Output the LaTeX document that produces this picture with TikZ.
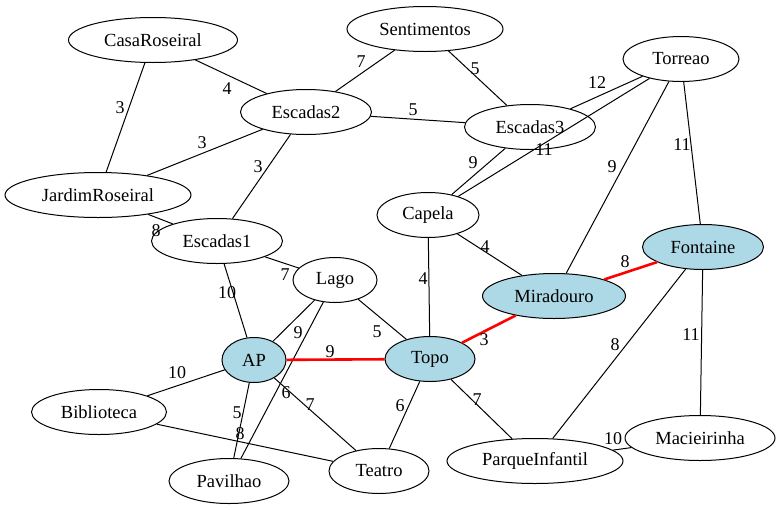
\documentclass[tikz,border=0pt]{standalone}
\usepackage{fontspec}
\setmainfont{Liberation Serif}
\newfontfamily\graphfont{Liberation Serif}
\usepackage{tikz}
\usetikzlibrary{shapes.geometric}

\definecolor{lightblue}{HTML}{ADD8E6}

\tikzset{
    place/.style={ellipse, draw, line width=1pt, fill=white, inner sep=0pt,
        minimum height=45pt, font=\graphfont\fontsize{18.5}{20}\selectfont},
    visited/.style={place, fill=lightblue},
    weight/.style={inner sep=0pt, text=black, font=\graphfont\fontsize{18}{20}\selectfont},
    link/.style={line width=1pt},
    route/.style={line width=2.6pt, red}
}

\begin{document}
\begin{tikzpicture}[x=1pt, y=-1pt]

    \useasboundingbox (0,0) rectangle (781,509);

    % locais
    \node[place, minimum width=169pt] (casa) at (153,40) {CasaRoseiral};
    \node[place, minimum width=156pt] (sent) at (425,29) {Sentimentos};
    \node[place, minimum width=116pt] (torreao) at (681,59) {Torreao};
    \node[place, minimum width=131pt] (esc2) at (306,112) {Escadas2};
    \node[place, minimum width=131pt] (esc3) at (530,127) {Escadas3};
    \node[place, minimum width=186pt] (jardim) at (98,195) {JardimRoseiral};
    \node[place, minimum width=102pt] (capela) at (428,215) {Capela};
    \node[place, minimum width=131pt] (esc1) at (217,241) {Escadas1};
    \node[place, minimum width=84pt] (lago) at (335,280) {Lago};
    \node[visited, minimum width=121pt] (fontaine) at (703,247) {Fontaine};
    \node[visited, minimum width=143pt] (mirad) at (554,296) {Miradouro};
    \node[visited, minimum width=64pt] (ap) at (254,360) {AP};
    \node[visited, minimum width=90pt] (topo) at (430,359) {Topo};
    \node[place, minimum width=135pt] (biblio) at (99,412) {Biblioteca};
    \node[place, minimum width=150pt] (macie) at (700,438) {Macieirinha};
    \node[place, minimum width=176pt] (parque) at (535,461) {ParqueInfantil};
    \node[place, minimum width=100pt] (teatro) at (379,471) {Teatro};
    \node[place, minimum width=120pt] (pavilhao) at (229,481) {Pavilhao};

    % ligacoes
    \draw[link] (casa) -- (esc2) node[weight, at={(227,89)}] (w1) {4};
    \draw[link] (casa) -- (jardim) node[weight, at={(120,108)}] (w2) {3};
    \draw[link] (sent) -- (esc2) node[weight, at={(361,62)}] (w3) {7};
    \draw[link] (sent) -- (esc3) node[weight, at={(475,69)}] (w4) {5};
    \draw[link] (esc2) -- (esc3) node[weight, at={(413,110)}] (w5) {5};
    \draw[link] (esc2) -- (jardim) node[weight, at={(202,143)}] (w6) {3};
    \draw[link] (esc2) -- (esc1) node[weight, at={(258,167)}] (w7) {3};
    \draw[link] (torreao) -- (esc3) node[weight, at={(597,83)}] (w8) {12};
    \draw[link] (torreao) -- (capela) node[weight, at={(544,150)}] (w9) {11};
    \draw[link] (esc3) -- (capela) node[weight, at={(473,163)}] (w10) {9};
    \draw[link] (torreao) -- (mirad) node[weight, at={(612,167)}] (w11) {9};
    \draw[link] (torreao) -- (fontaine) node[weight, at={(682,145)}] (w12) {11};
    \draw[link] (jardim) -- (esc1) node[weight, at={(156,231)}] (w13) {8};
    \draw[link] (esc1) -- (lago) node[weight, at={(285,275)}] (w14) {7};
    \draw[link] (esc1) -- (ap) node[weight, at={(227,293)}] (w15) {10};
    \draw[link] (capela) -- (mirad) node[weight, at={(485,247)}] (w16) {4};
    \draw[link] (capela) -- (topo) node[weight, at={(423,279)}] (w17) {4};
    \draw[link] (lago) -- (ap) node[weight, at={(298,333)}] (w18) {9};
    \draw[link] (lago) -- (pavilhao) node[weight, at={(286,393)}] (w19) {6};
    \draw[link] (lago) -- (topo) node[weight, at={(377,332)}] (w20) {5};
    \draw[link] (ap) -- (biblio) node[weight, at={(177,373)}] (w21) {10};
    \draw[link] (ap) -- (pavilhao) node[weight, at={(237,413)}] (w22) {5};
    \draw[link] (ap) -- (teatro) node[weight, at={(310,405)}] (w23) {7};
    \draw[link] (biblio) -- (teatro) node[weight, at={(240,434)}] (w24) {8};
    \draw[link] (topo) -- (teatro) node[weight, at={(400,406)}] (w25) {6};
    \draw[link] (topo) -- (parque) node[weight, at={(477,400)}] (w26) {7};
    \draw[link] (fontaine) -- (parque) node[weight, at={(615,345)}] (w27) {8};
    \draw[link] (fontaine) -- (macie) node[weight, at={(691,335)}] (w28) {11};
    \draw[link] (parque) -- (macie) node[weight, at={(613,439)}] (w29) {10};

    % caminho
    \draw[route] (ap) -- (topo) node[weight, at={(330,352)}] (w30) {9};
    \draw[route] (topo) -- (mirad) node[weight, at={(484,340)}] (w31) {3};
    \draw[route] (mirad) -- (fontaine) node[weight, at={(625,262)}] (w32) {8};

\end{tikzpicture}
\end{document}
